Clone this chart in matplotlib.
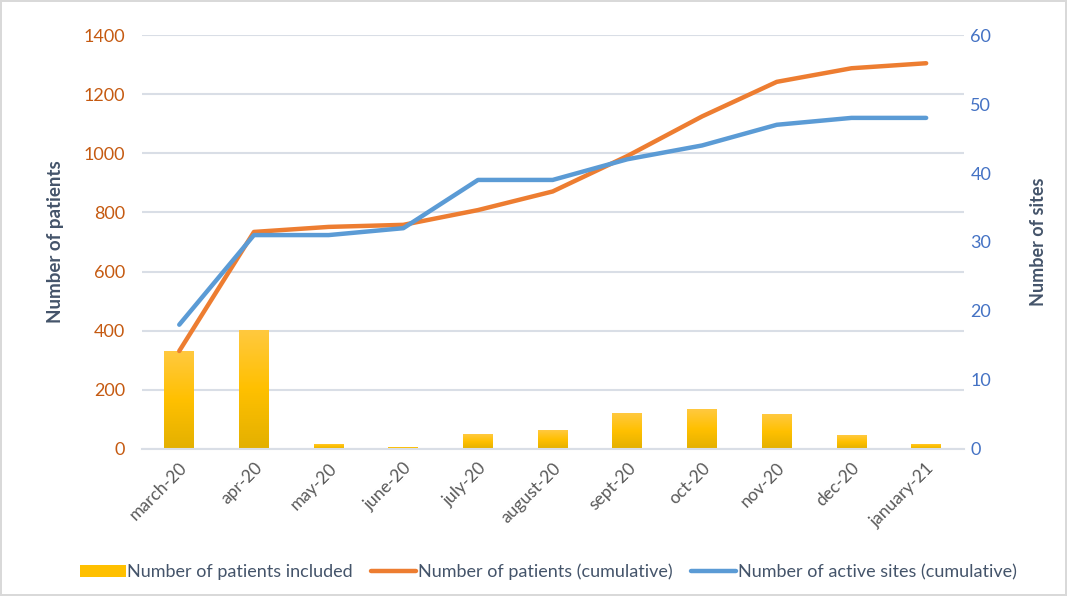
import matplotlib.pyplot as plt
import numpy as np
from matplotlib.patches import Rectangle
from matplotlib.colors import LinearSegmentedColormap

plt.rcParams['font.family'] = ['Lato', 'DejaVu Sans']

# data
months = ['march-20', 'apr-20', 'may-20', 'june-20', 'july-20', 'august-20',
          'sept-20', 'oct-20', 'nov-20', 'dec-20', 'january-21']
patients_included = [331, 403, 17, 7, 50, 63, 120, 134, 117, 46, 17]
patients_cumulative = [331, 734, 751, 758, 808, 871, 991, 1125, 1242, 1288, 1305]
sites_cumulative = [18, 31, 31, 32, 39, 39, 42, 44, 47, 48, 48]

orange = '#ED7D31'
blue = '#5B9BD5'
label_col = '#44546A'

fig = plt.figure(figsize=(10.67, 5.96), dpi=100)
fig.patch.set_edgecolor('#D9D9D9')
fig.patch.set_linewidth(1.5)
ax = fig.add_axes([0.133, 0.247, 0.770, 0.694])
ax2 = ax.twinx()

x = np.arange(len(months))
bars = ax.bar(x, patients_included, width=0.4, color='#FFC000', zorder=2)

# vertical gradient on bars
grad = np.linspace(0, 1, 256).reshape(-1, 1)
cmap = LinearSegmentedColormap.from_list('g', ['#E3B000', '#FFC000', '#FFC940'])
for b in bars:
    bx, by = b.get_x(), b.get_y()
    bw, bh = b.get_width(), b.get_height()
    im = ax.imshow(grad, extent=[bx, bx + bw, by, by + bh], origin='lower',
                   aspect='auto', cmap=cmap, zorder=2.1)
    im.set_clip_path(b)

ln1, = ax.plot(x, patients_cumulative, color=orange, lw=3.2, zorder=3,
               solid_capstyle='round')
ln2, = ax2.plot(x, sites_cumulative, color=blue, lw=3.2, zorder=3,
                solid_capstyle='round')

ax.set_xlim(-0.5, len(months) - 0.5)
ax.set_ylim(0, 1400)
ax.set_yticks(range(0, 1401, 200))
ax2.set_ylim(0, 60)
ax2.set_yticks(range(0, 61, 10))

ax.grid(axis='y', color='#D9DEE6', lw=1.5, zorder=0)
ax.set_axisbelow(True)
for a in (ax, ax2):
    for s in a.spines.values():
        s.set_visible(False)
    a.tick_params(length=0)
ax.spines['bottom'].set_visible(True)
ax.spines['bottom'].set_color('#D9DEE6')
ax.spines['bottom'].set_linewidth(1.5)

ax.set_xticks(x)
ax.set_xticklabels(months, rotation=45, ha='right', rotation_mode='anchor',
                   fontsize=12.5, color='#595959')
ax.tick_params(axis='x', pad=8)
ax.tick_params(axis='y', labelsize=13, labelcolor='#C55A11', pad=12)
ax2.tick_params(axis='y', labelsize=13, labelcolor='#4472C4', pad=5)

ax.set_ylabel('Number of patients', fontsize=13.5, fontweight='bold',
              color=label_col, labelpad=14)
ax2.set_ylabel('Number of sites', fontsize=13, fontweight='bold',
               color=label_col, labelpad=28)

leg_bar = Rectangle((0, 0), 1, 1, facecolor='#FFC000')
fig.legend([leg_bar, ln1, ln2],
           ['Number of patients included', 'Number of patients (cumulative)',
            'Number of active sites (cumulative)'],
           loc='center', bbox_to_anchor=(0.514, 0.04), ncol=3, frameon=False,
           fontsize=13, labelcolor='#44546A', handlelength=2.5,
           handletextpad=0.1, columnspacing=1.0)

fig.savefig('out.png', dpi=100, edgecolor=fig.get_edgecolor())
